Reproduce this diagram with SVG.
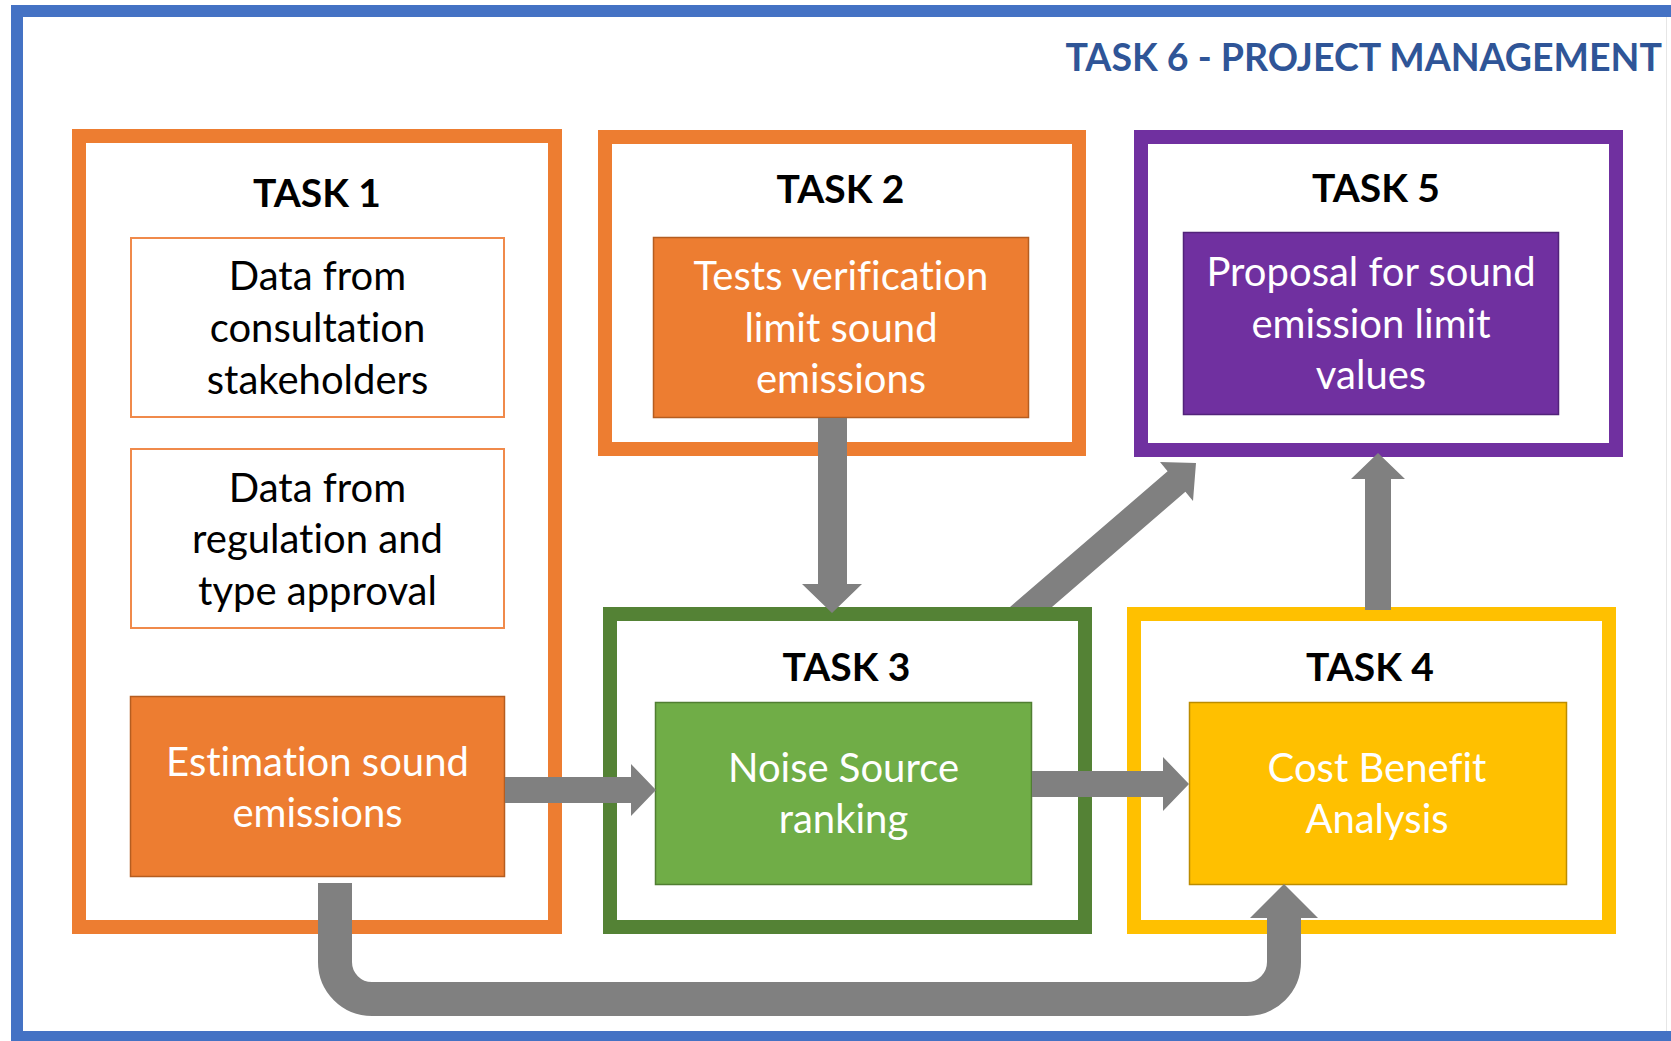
<svg xmlns="http://www.w3.org/2000/svg" width="1671" height="1041" viewBox="0 0 1671 1041">
  <style>
    text { font-variant-ligatures: none; }
    .frame { fill: none; stroke: #4472C4; stroke-width: 12; }
    .task { fill: #ffffff; stroke-width: 14; }
    .hdr { font-family: Lato, "Liberation Sans", sans-serif; font-weight: bold; font-size: 39px; fill: #000000; text-anchor: middle; }
    .txt { font-family: Lato, "Liberation Sans", sans-serif; font-size: 40px; text-anchor: middle; }
    .dark { fill: #000000; }
    .light { fill: #ffffff; }
    .title { font-family: Lato, "Liberation Sans", sans-serif; font-weight: bold; font-size: 37.5px; fill: #2F5597; text-anchor: end; }
    .arrow { fill: #808080; }
    .arrowline { fill: none; stroke: #808080; stroke-width: 34; }
  </style>
  <rect x="0" y="0" width="1671" height="1041" fill="#ffffff"/>
  <rect class="frame" x="17" y="11" width="1700" height="1026"/>
  <line x1="1666.5" y1="17" x2="1666.5" y2="1031" stroke="#e6e6e6" stroke-width="1"/>

  <text class="title" x="1662" y="71">TASK 6 - PROJECT MANAGEMENT</text>

  <g id="task1">
    <rect class="task" x="79" y="136" width="476" height="791" stroke="#ED7D31"/>
    <text class="hdr" x="317" y="207">TASK 1</text>
  </g>
  <g id="data-consultation">
    <rect x="131" y="238" width="373" height="179" fill="#ffffff" stroke="#F08A4B" stroke-width="2"/>
    <text class="txt dark" x="317.5" y="290">Data from</text>
    <text class="txt dark" x="317.5" y="342">consultation</text>
    <text class="txt dark" x="317.5" y="394">stakeholders</text>
  </g>
  <g id="data-regulation">
    <rect x="131" y="449" width="373" height="179" fill="#ffffff" stroke="#F08A4B" stroke-width="2"/>
    <text class="txt dark" x="317.5" y="502">Data from</text>
    <text class="txt dark" x="317.5" y="553">regulation and</text>
    <text class="txt dark" x="317.5" y="605">type approval</text>
  </g>
  <g id="estimation">
    <rect x="130.5" y="696.5" width="374" height="180" fill="#ED7D31" stroke="#B55D20" stroke-width="1.5"/>
    <text class="txt light" x="317.5" y="776">Estimation sound</text>
    <text class="txt light" x="317.5" y="827">emissions</text>
  </g>

  <g id="task2">
    <rect class="task" x="605" y="137" width="474" height="312" stroke="#ED7D31"/>
    <text class="hdr" x="840.5" y="203">TASK 2</text>
    <rect x="653.5" y="237.5" width="375" height="180" fill="#ED7D31" stroke="#B55D20" stroke-width="1.5"/>
    <text class="txt light" x="841" y="290">Tests verification</text>
    <text class="txt light" x="841" y="342">limit sound</text>
    <text class="txt light" x="841" y="393">emissions</text>
  </g>

  <g id="task5">
    <rect class="task" x="1141" y="137" width="475" height="313" stroke="#7030A0"/>
    <text class="hdr" x="1376" y="202">TASK 5</text>
    <rect x="1183.5" y="232.5" width="375" height="182" fill="#7030A0" stroke="#52237A" stroke-width="1.5"/>
    <text class="txt light" x="1371" y="286">Proposal for sound</text>
    <text class="txt light" x="1371" y="338">emission limit</text>
    <text class="txt light" x="1371" y="389">values</text>
  </g>

  <g id="task3">
    <rect class="task" x="610" y="614" width="475" height="313" stroke="#548235"/>
    <text class="hdr" x="846.5" y="681">TASK 3</text>
    <rect x="655.5" y="702.5" width="376" height="182" fill="#70AD47" stroke="#507E32" stroke-width="1.5"/>
    <text class="txt light" x="843.5" y="782">Noise Source</text>
    <text class="txt light" x="843.5" y="833">ranking</text>
  </g>

  <g id="task4">
    <rect class="task" x="1134" y="614" width="475" height="313" stroke="#FFC000"/>
    <text class="hdr" x="1370" y="681">TASK 4</text>
    <rect x="1189.5" y="702.5" width="377" height="182" fill="#FFC000" stroke="#BC8C00" stroke-width="1.5"/>
    <text class="txt light" x="1377" y="782">Cost Benefit</text>
    <text class="txt light" x="1377" y="833">Analysis</text>
  </g>

  <g id="connectors">
    <!-- Estimation -> Noise Source -->
    <polygon class="arrow" points="505,777 631,777 631,764 656,790 631,816 631,803 505,803"/>
    <!-- Noise Source -> Cost Benefit -->
    <polygon class="arrow" points="1032,771 1163,771 1163,757 1189,784 1163,811 1163,797 1032,797"/>
    <!-- Task 2 -> Task 3 -->
    <polygon class="arrow" points="818,418 847,418 847,584 862,584 832,613 802,584 818,584"/>
    <!-- Task 3 -> Task 5 (diagonal) -->
    <polygon class="arrow" points="1010,607 1167.6,471.3 1160,462 1196,463 1193,501 1185.4,491.7 1052,607"/>
    <!-- Task 4 -> Task 5 -->
    <polygon class="arrow" points="1365,610 1365,479 1351,479 1378,453 1405,479 1391,479 1391,610"/>
    <!-- Estimation -> Cost Benefit (U) -->
    <path class="arrowline" d="M335,883 L335,962 A37,37 0 0 0 372,999 L1247,999 A37,37 0 0 0 1284,962 L1284,917"/>
    <polygon class="arrow" points="1250,918 1284,884 1318,918"/>
  </g>
</svg>
